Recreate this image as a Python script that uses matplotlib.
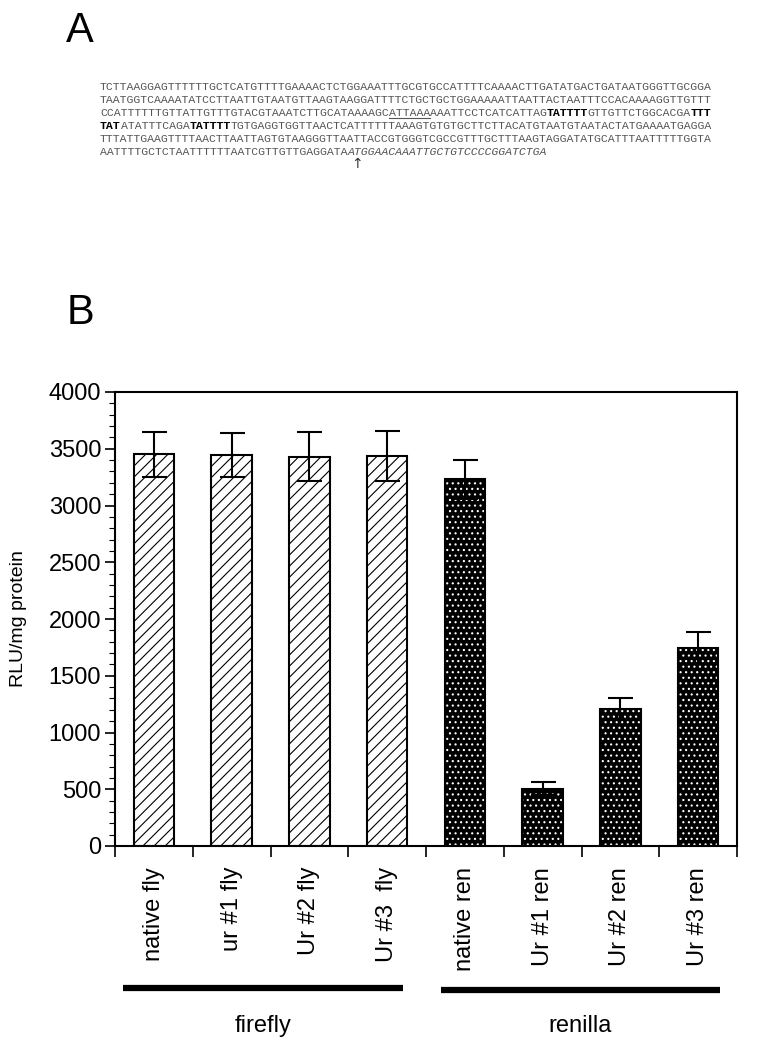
import matplotlib
matplotlib.use("Agg")
import matplotlib.pyplot as plt
import numpy as np
from matplotlib.ticker import MultipleLocator, FixedLocator, NullFormatter

# ---------------- data ----------------
categories = ["native fly", "ur #1 fly", "Ur #2 fly", "Ur #3  fly",
              "native ren", "Ur #1 ren", "Ur #2 ren", "Ur #3 ren"]
fly_values = [3450, 3445, 3430, 3440]
fly_errors = [200, 190, 215, 220]
ren_values = [3230, 505, 1210, 1745]
ren_errors = [170, 60, 90, 140]
group_labels = ["firefly", "renilla"]
y_ticks = [0, 500, 1000, 1500, 2000, 2500, 3000, 3500, 4000]
y_label = "RLU/mg protein"

# sequence lines: list of (text, style) segments; style: n=normal, b=bold, u=underline, i=italic
seq_lines = [
    [("TCTTAAGGAGTTTTTTGCTCATGTTTTGAAAACTCTGGAAATTTGCGTGCCATTTTCAAAACTTGATATGACTGATAATGGGTTGCGGA", "n")],
    [("TAATGGTCAAAATATCCTTAATTGTAATGTTAAGTAAGGATTTTCTGCTGCTGGAAAAATTAATTACTAATTTCCACAAAAGGTTGTTT", "n")],
    [("CCATTTTTTGTTATTGTTTGTACGTAAATCTTGCATAAAAGC", "n"), ("ATTAAA", "u"),
     ("AAATTCCTCATCATTAG", "n"), ("TATTTT", "b"), ("GTTGTTCTGGCACGA", "n"), ("TTT", "b")],
    [("TAT", "b"), ("ATATTTCAGA", "n"), ("TATTTT", "b"),
     ("TGTGAGGTGGTTAACTCATTTTTTAAAGTGTGTGCTTCTTACATGTAATGTAATACTATGAAAATGAGGA", "n")],
    [("TTTATTGAAGTTTTAACTTAATTAGTGTAAGGGTTAATTACCGTGGGTCGCCGTTTGCTTTAAGTAGGATATGCATTTAATTTTTGGTA", "n")],
    [("AATTTTGCTCTAATTTTTTAATCGTTGTTGAGGATA", "n"), ("ATGGAACAAATTGCTGTCCCCGGATCTGA", "i")],
]

plt.rcParams["hatch.linewidth"] = 0.8

W, H = 774, 1050
fig = plt.figure(figsize=(W / 100, H / 100), dpi=100)
sans = ["Liberation Sans", "DejaVu Sans"]

def fx(x):
    return x / W

def fy(y):
    return 1 - y / H

# ---------------- panel A ----------------
fig.text(fx(80), fy(31), "A", fontsize=30, family=sans, ha="center", va="center")
fig.text(fx(80), fy(313), "B", fontsize=30, family=sans, ha="center", va="center")

cw = 6.87  # px per char
fs_seq = cw / 0.6 / (100 / 72)
x0 = 100
line_y0 = 86.5
dy = 12.9
for li, segs in enumerate(seq_lines):
    yb = line_y0 + li * dy + 3.8
    n = 0
    for txt, st in segs:
        kw = dict(fontsize=fs_seq, family=["Liberation Mono", "DejaVu Sans Mono"],
                  ha="left", va="baseline")
        if st == "b":
            kw.update(weight="bold", color="black")
        else:
            kw.update(color="#555555")
        if st == "i":
            kw.update(style="italic")
        fig.text(fx(x0 + n * cw), fy(yb), txt, **kw)
        if st == "u":
            fig.add_artist(plt.Line2D([fx(x0 + n * cw), fx(x0 + (n + len(txt)) * cw)],
                                      [fy(yb + 2), fy(yb + 2)], color="#555555", lw=0.8))
        n += len(txt)
fig.text(fx(357), fy(164), "\u2191", fontsize=10, family=["DejaVu Sans"],
         ha="center", va="center", color="#333333")

# ---------------- panel B ----------------
ax = fig.add_axes([fx(115), fy(846), (737 - 115) / W, (846 - 392) / H])
xf = np.arange(len(fly_values))
xr = np.arange(len(ren_values)) + len(fly_values)
bw = 0.52

ax.bar(xf, fly_values, width=bw, color="white", edgecolor="black", linewidth=0,
       hatch="///", zorder=2)
ax.bar(xf, fly_values, width=bw, fill=False, edgecolor="black", linewidth=1.5, zorder=3)
ax.bar(xr, ren_values, width=bw, color="black", edgecolor="white", linewidth=0,
       hatch="...", zorder=2)
ax.bar(xr, ren_values, width=bw, fill=False, edgecolor="black", linewidth=1.5, zorder=3)
ax.errorbar(xf, fly_values, yerr=fly_errors, fmt="none", ecolor="black",
            elinewidth=1.5, capsize=9, capthick=1.5, zorder=4)
ax.errorbar(xr, ren_values, yerr=ren_errors, fmt="none", ecolor="black",
            elinewidth=1.5, capsize=9, capthick=1.5, zorder=4)

ax.set_xlim(-0.5, len(categories) - 0.5)
ax.set_ylim(0, 4000)
ax.set_yticks(y_ticks)
ax.set_yticklabels([str(v) for v in y_ticks], fontsize=17, family=sans)
ax.yaxis.set_minor_locator(MultipleLocator(100))
ax.tick_params(axis="y", which="major", length=7, width=1.2, pad=3, direction="out")
ax.tick_params(axis="y", which="minor", length=4, width=0.8, direction="out")
ax.tick_params(axis="y", right=False)

ax.xaxis.set_major_locator(FixedLocator(np.arange(-0.5, len(categories), 1.0)))
ax.xaxis.set_major_formatter(NullFormatter())
ax.xaxis.set_minor_locator(FixedLocator(np.arange(len(categories))))
ax.set_xticklabels(categories, minor=True, rotation=90, fontsize=17, family=sans)
ax.tick_params(axis="x", which="major", length=8, width=1.2, direction="out")
ax.tick_params(axis="x", which="minor", length=0, pad=15)
ax.tick_params(axis="x", top=False)

for s in ax.spines.values():
    s.set_linewidth(1.5)

ax.set_ylabel(y_label, fontsize=14, family=sans)
ax.yaxis.set_label_coords(fx(27 - 115) / ((737 - 115) / W), 0.5)

# group lines and labels
fig.add_artist(plt.Line2D([fx(123), fx(403)], [fy(988), fy(988)], color="black", lw=4.5,
                          solid_capstyle="butt"))
fig.add_artist(plt.Line2D([fx(441), fx(720)], [fy(990), fy(990)], color="black", lw=4.5,
                          solid_capstyle="butt"))
fig.text(fx(263), fy(1026), group_labels[0], fontsize=17, family=sans, ha="center", va="center")
fig.text(fx(580), fy(1026), group_labels[1], fontsize=17, family=sans, ha="center", va="center")

fig.savefig("out.png", dpi=100)
